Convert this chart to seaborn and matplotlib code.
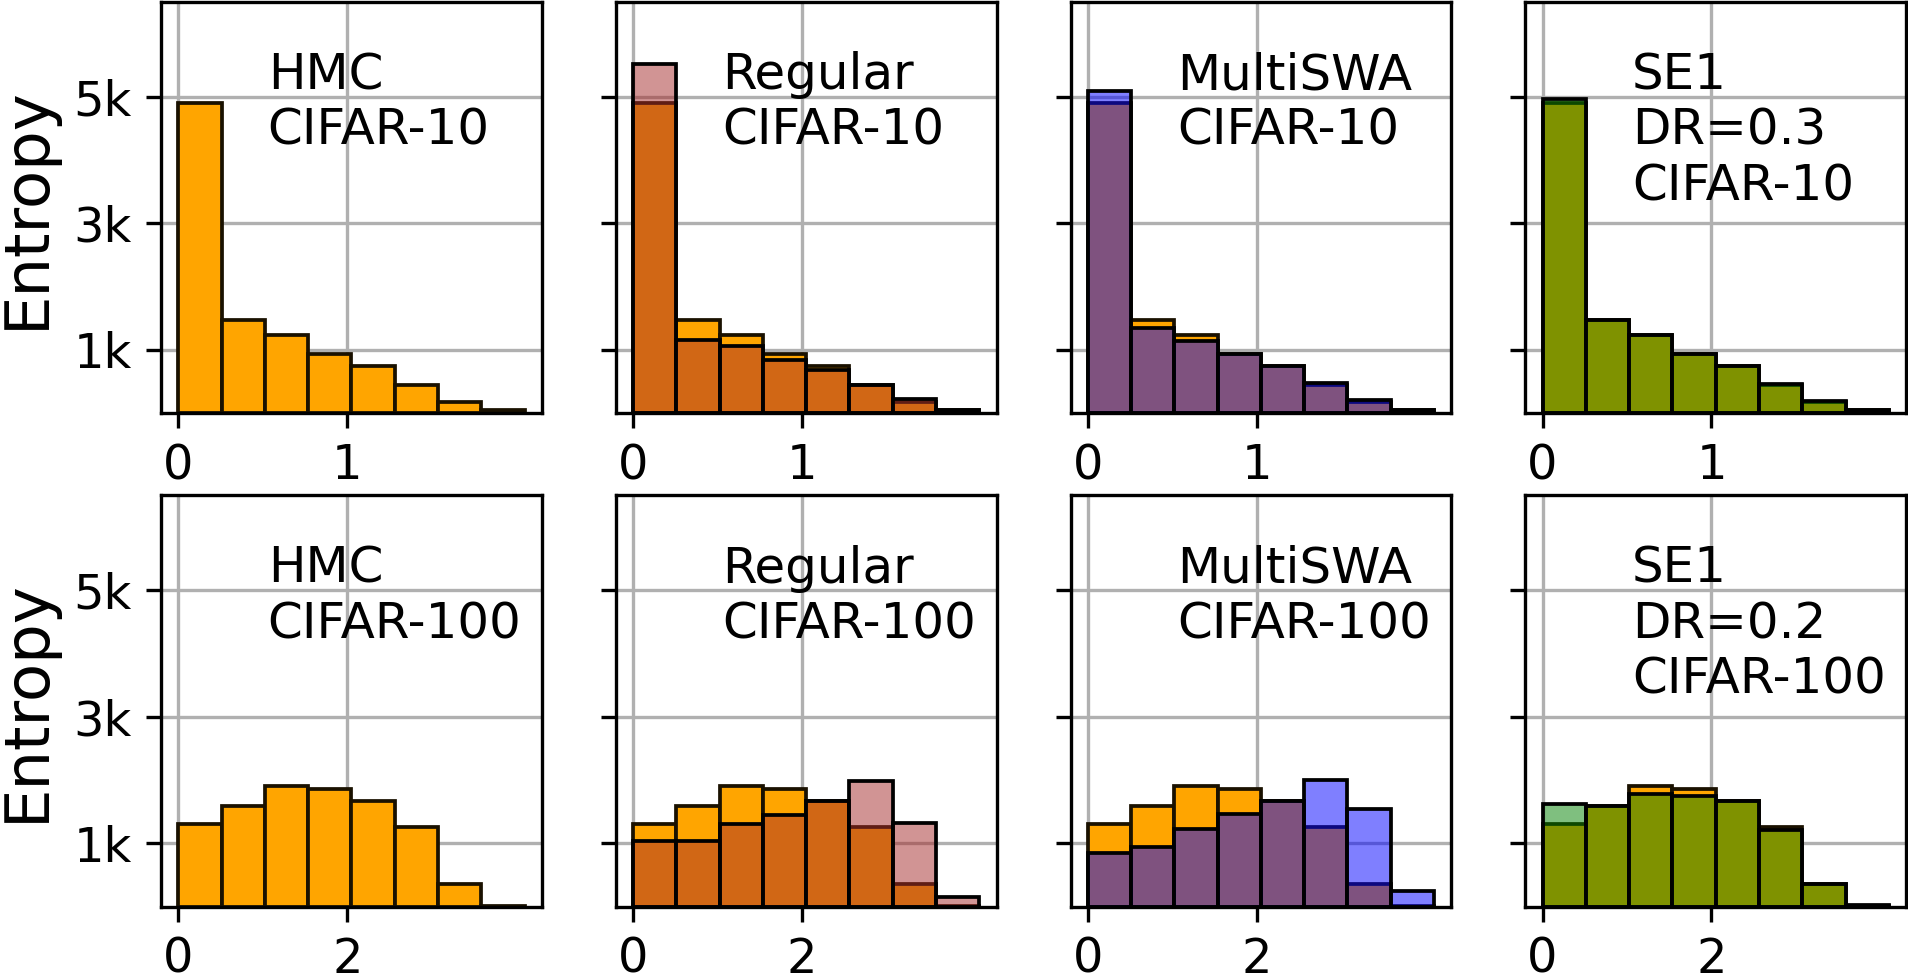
import numpy as np
import pandas as pd
import seaborn as sns
import matplotlib.pyplot as plt

sns.set_style("ticks")
plt.rcParams['font.family'] = ['DejaVu Sans']
plt.rcParams['text.color'] = 'black'
plt.rcParams['axes.labelcolor'] = 'black'
plt.rcParams['xtick.color'] = 'black'
plt.rcParams['ytick.color'] = 'black'

# bin counts of predictive entropy (8 bins per dataset)
n_bins = 8
max_entropy_c10 = 2.05
max_entropy_c100 = 4.1

hmc_c10 = [4900, 1480, 1243, 942, 741, 451, 172, 45]
regular_c10 = [5517, 1153, 1058, 836, 689, 451, 224, 45]
multiswa_c10 = [5085, 1348, 1137, 942, 741, 477, 203, 55]
se1_c10 = [4963, 1480, 1243, 942, 745, 460, 186, 45]

hmc_c100 = [1305, 1595, 1910, 1858, 1674, 1253, 358, 15]
regular_c100 = [1042, 1042, 1305, 1447, 1674, 1989, 1321, 158]
multiswa_c100 = [847, 947, 1226, 1463, 1674, 2005, 1542, 242]
se1_c100 = [1621, 1595, 1779, 1742, 1674, 1216, 358, 30]

methods = ['HMC', 'Regular', 'MultiSWA', 'SE1']
method_colors = {'Regular': 'brown', 'MultiSWA': 'blue', 'SE1': 'green'}
labels_c10 = ['HMC\nCIFAR-10', 'Regular\nCIFAR-10', 'MultiSWA\nCIFAR-10', 'SE1\nDR=0.3\nCIFAR-10']
labels_c100 = ['HMC\nCIFAR-100', 'Regular\nCIFAR-100', 'MultiSWA\nCIFAR-100', 'SE1\nDR=0.2\nCIFAR-100']

rows = [
    (max_entropy_c10, {'HMC': hmc_c10, 'Regular': regular_c10, 'MultiSWA': multiswa_c10, 'SE1': se1_c10},
     labels_c10, [0, 1]),
    (max_entropy_c100, {'HMC': hmc_c100, 'Regular': regular_c100, 'MultiSWA': multiswa_c100, 'SE1': se1_c100},
     labels_c100, [0, 2]),
]

fig, axes = plt.subplots(2, 4, figsize=(6.36, 3.2567), dpi=300, sharey=True)
fig.subplots_adjust(left=0.0844, right=0.999, top=0.998, bottom=0.072, wspace=0.194, hspace=0.2)

for r, (emax, counts, labels, xt) in enumerate(rows):
    edges = list(np.linspace(0, emax, n_bins + 1))
    centers = [(a + b) / 2 for a, b in zip(edges[:-1], edges[1:])]
    for c, method in enumerate(methods):
        ax = axes[r, c]
        df = pd.DataFrame({'entropy': centers, 'hmc': counts['HMC'], 'method': counts[method]})
        sns.histplot(data=df, x='entropy', weights='hmc', bins=edges, color='orange',
                     edgecolor='#1a1100', linewidth=0.9, alpha=1, ax=ax)
        if method != 'HMC':
            sns.histplot(data=df, x='entropy', weights='method', bins=edges, color=method_colors[method],
                         edgecolor='black', linewidth=0.9, alpha=0.5, ax=ax)
        ax.text(0.28, 0.88, labels[c], transform=ax.transAxes, va='top', ha='left', fontsize=12)
        ax.set_xticks(xt)
        ax.set_ylim(0, 6500)
        ax.set_yticks([1000, 3000, 5000])
        ax.set_yticklabels(['1k', '3k', '5k'])
        ax.tick_params(labelsize=11.5, width=0.8)
        ax.grid(True, color='#b0b0b0', linewidth=0.8)
        for s in ax.spines.values():
            s.set_linewidth(0.8)
            s.set_color('black')
        ax.set_xlabel('')
        ax.set_ylabel('Entropy' if c == 0 else '', fontsize=15)

fig.savefig('out.png', dpi=300)
